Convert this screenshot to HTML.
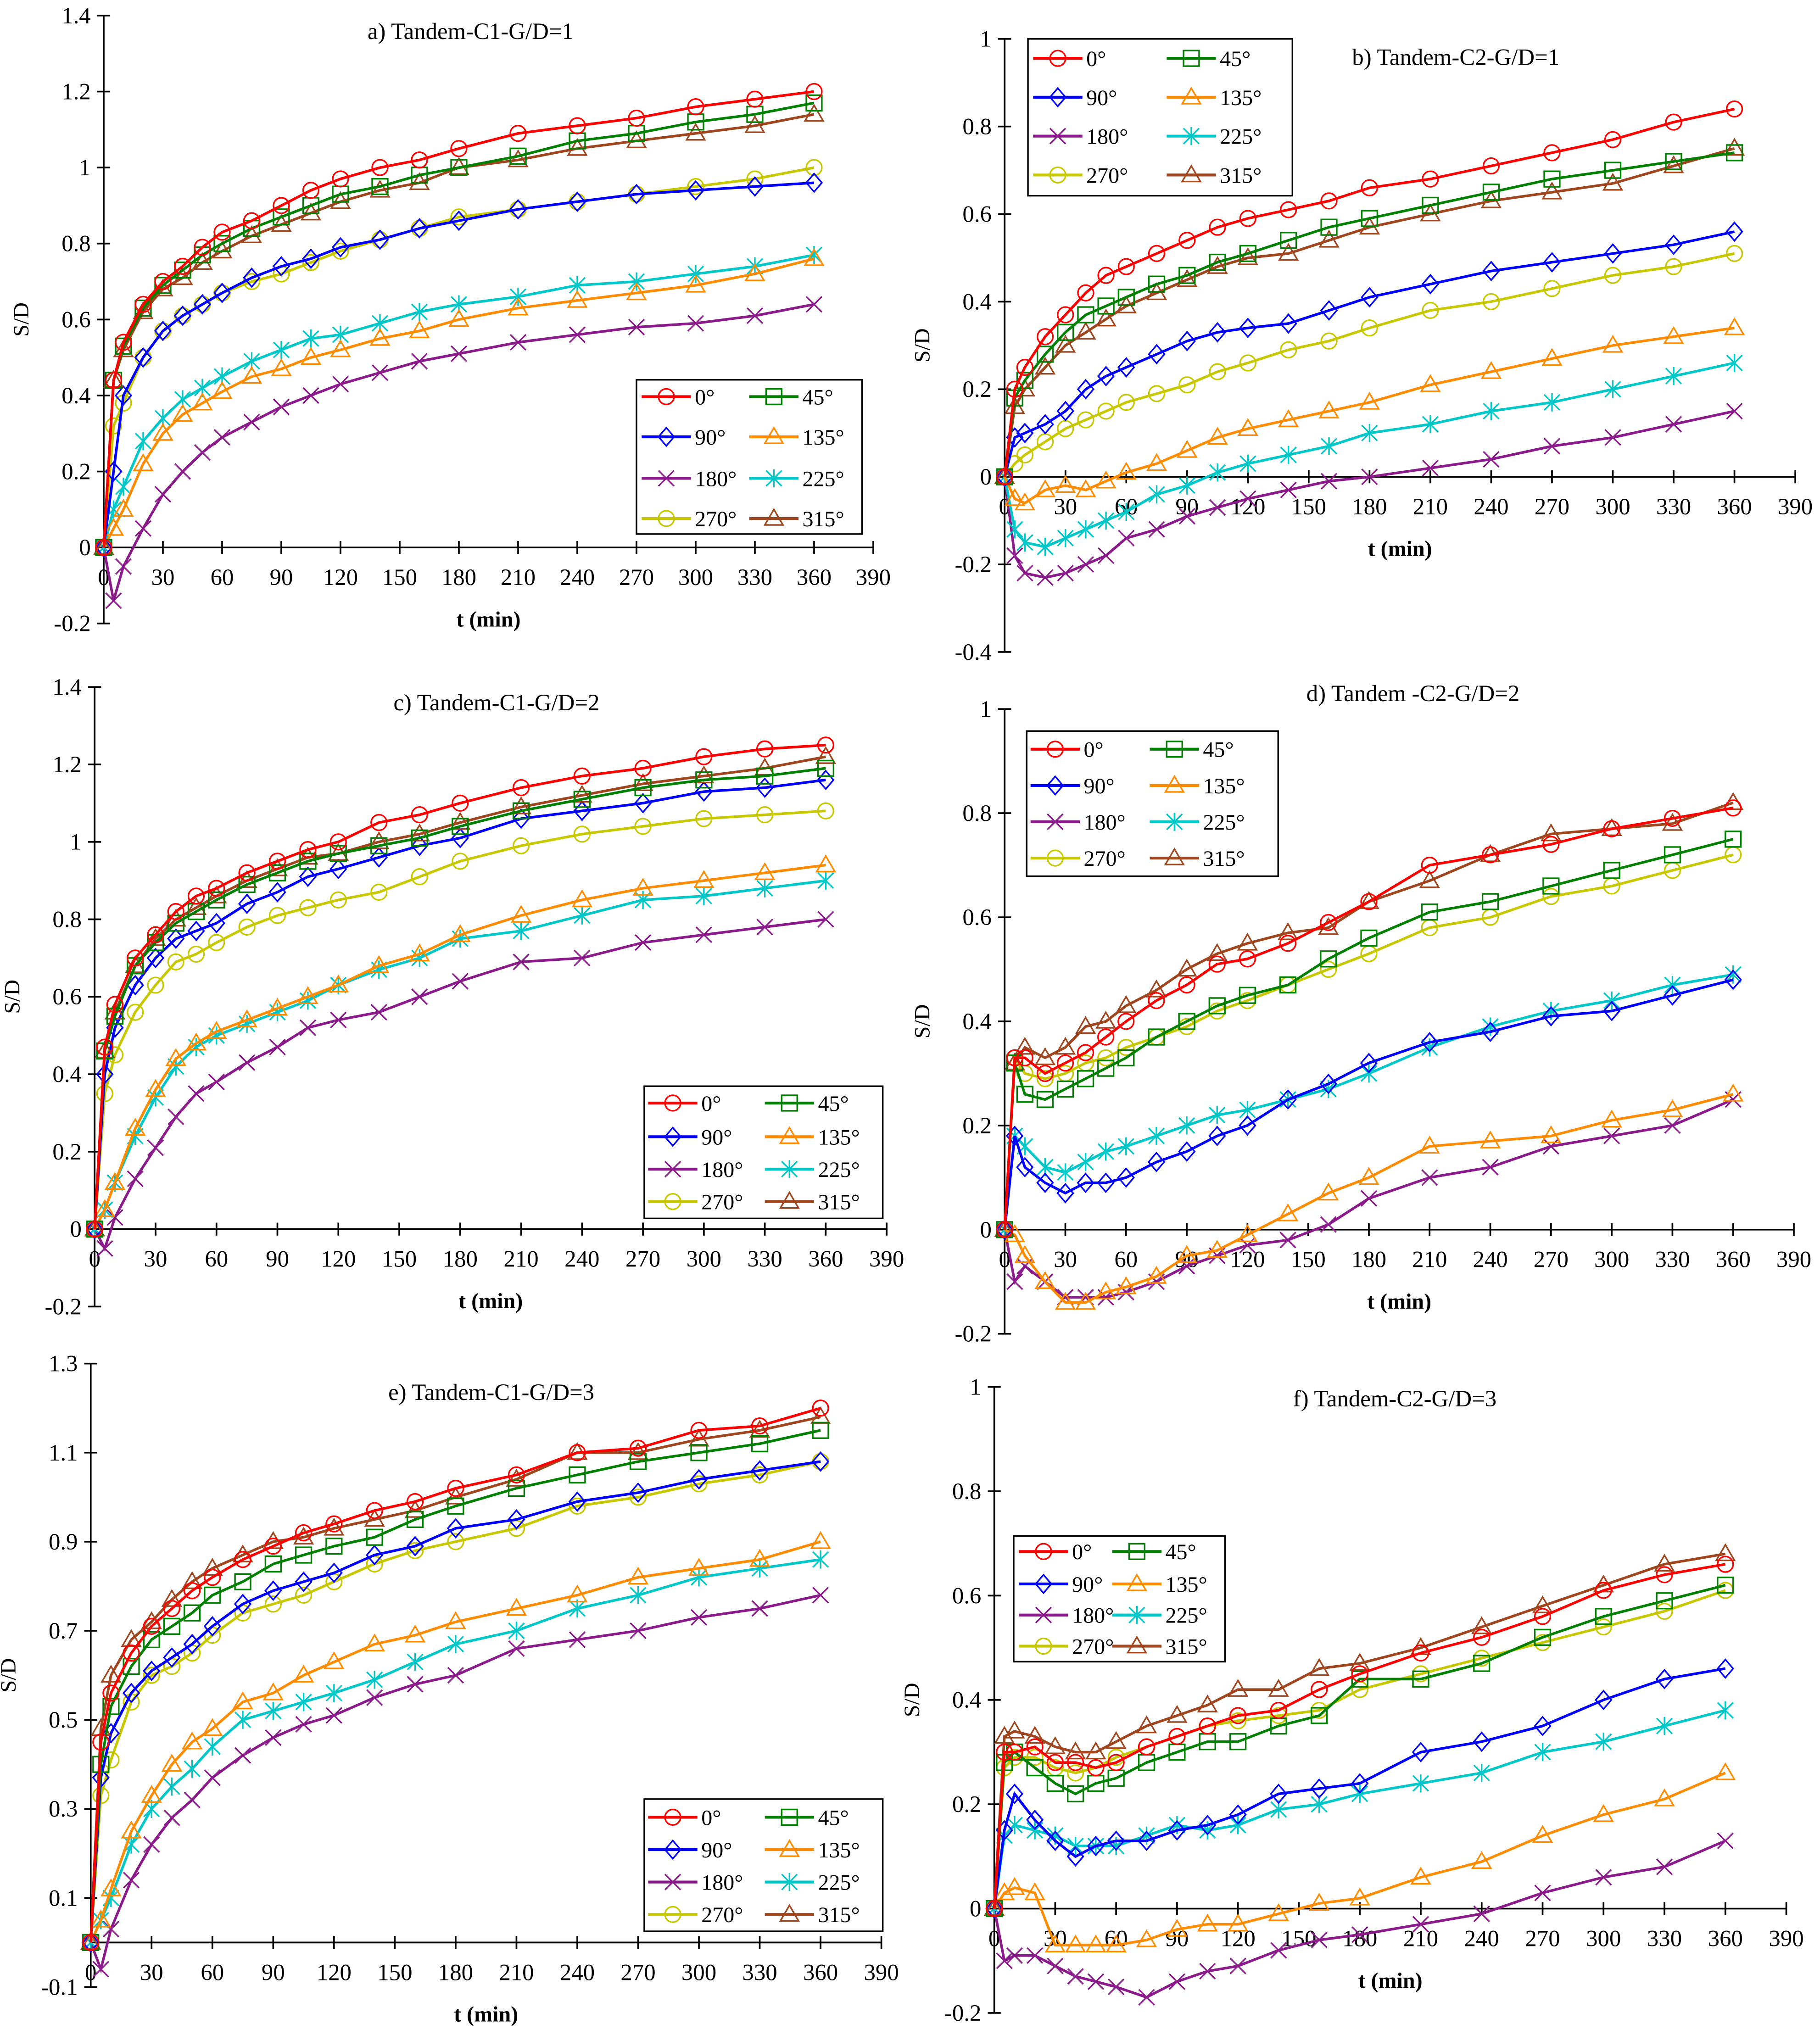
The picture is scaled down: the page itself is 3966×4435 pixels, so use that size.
<!DOCTYPE html>
<html><head><meta charset="utf-8"><style>
html,body{margin:0;padding:0;background:#fff}
svg{display:block}
text{font-family:"Liberation Serif",serif;fill:#000}
</style></head><body>
<svg id="chart" width="3966" height="4435" viewBox="0 0 1404 1570" xmlns="http://www.w3.org/2000/svg"></svg>
<script>
const times=[0,5,10,20,30,40,50,60,75,90,105,120,140,160,180,210,240,270,300,330,360];
const angles=["0°","45°","90°","135°","180°","225°","270°","315°"];
const xTicks=[0,30,60,90,120,150,180,210,240,270,300,330,360,390];
const aVals={
"0°":[0,.44,.54,.64,.70,.74,.79,.83,.86,.90,.94,.97,1.00,1.02,1.05,1.09,1.11,1.13,1.16,1.18,1.20],
"45°":[0,.44,.53,.63,.69,.73,.77,.80,.84,.87,.90,.93,.95,.98,1.00,1.03,1.07,1.09,1.12,1.14,1.17],
"90°":[0,.2,.4,.5,.57,.61,.64,.67,.71,.74,.76,.79,.81,.84,.86,.89,.91,.93,.94,.95,.96],
"135°":[0,.05,.1,.22,.3,.35,.38,.41,.45,.47,.50,.52,.55,.57,.60,.63,.65,.67,.69,.72,.76],
"180°":[0,-.14,-.05,.05,.14,.20,.25,.29,.33,.37,.40,.43,.46,.49,.51,.54,.56,.58,.59,.61,.64],
"225°":[0,.1,.16,.28,.34,.39,.42,.45,.49,.52,.55,.56,.59,.62,.64,.66,.69,.70,.72,.74,.77],
"270°":[0,.32,.38,.5,.57,.61,.64,.67,.70,.72,.75,.78,.81,.84,.87,.89,.91,.93,.95,.97,1.00],
"315°":[0,.44,.52,.62,.68,.71,.75,.78,.82,.85,.88,.91,.94,.96,1.00,1.02,1.05,1.07,1.09,1.11,1.14]};
const bVals={
"0°":[0,.2,.25,.32,.37,.42,.46,.48,.51,.54,.57,.59,.61,.63,.66,.68,.71,.74,.77,.81,.84],
"45°":[0,.18,.22,.28,.33,.37,.39,.41,.44,.46,.49,.51,.54,.57,.59,.62,.65,.68,.70,.72,.74],
"90°":[0,.09,.1,.12,.15,.2,.23,.25,.28,.31,.33,.34,.35,.38,.41,.44,.47,.49,.51,.53,.56],
"135°":[0,-.05,-.06,-.03,-.02,-.03,-.01,.01,.03,.06,.09,.11,.13,.15,.17,.21,.24,.27,.30,.32,.34],
"180°":[0,-.18,-.22,-.23,-.22,-.20,-.18,-.14,-.12,-.09,-.07,-.05,-.03,-.01,0,.02,.04,.07,.09,.12,.15],
"225°":[0,-.12,-.15,-.16,-.14,-.12,-.10,-.08,-.04,-.02,.01,.03,.05,.07,.10,.12,.15,.17,.20,.23,.26],
"270°":[0,.03,.05,.08,.11,.13,.15,.17,.19,.21,.24,.26,.29,.31,.34,.38,.40,.43,.46,.48,.51],
"315°":[0,.16,.2,.25,.3,.33,.36,.39,.42,.45,.48,.50,.51,.54,.57,.60,.63,.65,.67,.71,.75]};
const cVals={
"0°":[0,.47,.58,.7,.76,.82,.86,.88,.92,.95,.98,1.0,1.05,1.07,1.10,1.14,1.17,1.19,1.22,1.24,1.25],
"45°":[0,.46,.55,.68,.74,.79,.82,.85,.89,.92,.95,.97,.99,1.01,1.04,1.08,1.11,1.14,1.16,1.17,1.19],
"90°":[0,.4,.52,.63,.70,.75,.77,.79,.84,.87,.91,.93,.96,.99,1.01,1.06,1.08,1.10,1.13,1.14,1.16],
"135°":[0,.05,.12,.26,.36,.44,.48,.51,.54,.57,.60,.63,.68,.71,.76,.81,.85,.88,.90,.92,.94],
"180°":[0,-.05,.03,.13,.21,.29,.35,.38,.43,.47,.52,.54,.56,.60,.64,.69,.70,.74,.76,.78,.80],
"225°":[0,.05,.12,.24,.34,.42,.47,.50,.53,.56,.59,.63,.67,.70,.75,.77,.81,.85,.86,.88,.90],
"270°":[0,.35,.45,.56,.63,.69,.71,.74,.78,.81,.83,.85,.87,.91,.95,.99,1.02,1.04,1.06,1.07,1.08],
"315°":[0,.46,.56,.68,.75,.80,.83,.86,.90,.93,.96,.97,1.00,1.02,1.05,1.09,1.12,1.15,1.17,1.19,1.22]};
const dVals={
"0°":[0,.33,.33,.3,.32,.34,.37,.40,.44,.47,.51,.52,.55,.59,.63,.70,.72,.74,.77,.79,.81],
"45°":[0,.32,.26,.25,.27,.29,.31,.33,.37,.40,.43,.45,.47,.52,.56,.61,.63,.66,.69,.72,.75],
"90°":[0,.18,.12,.09,.07,.09,.09,.10,.13,.15,.18,.20,.25,.28,.32,.36,.38,.41,.42,.45,.48],
"135°":[0,-.01,-.05,-.1,-.14,-.14,-.12,-.11,-.09,-.05,-.04,-.01,.03,.07,.10,.16,.17,.18,.21,.23,.26],
"180°":[0,-.1,-.07,-.1,-.13,-.13,-.13,-.12,-.10,-.07,-.05,-.03,-.02,.01,.06,.10,.12,.16,.18,.20,.25],
"225°":[0,.18,.16,.12,.11,.13,.15,.16,.18,.20,.22,.23,.25,.27,.30,.35,.39,.42,.44,.47,.49],
"270°":[0,.33,.30,.29,.30,.32,.33,.35,.37,.39,.42,.44,.47,.50,.53,.58,.60,.64,.66,.69,.72],
"315°":[0,.32,.35,.33,.35,.39,.40,.43,.46,.50,.53,.55,.57,.58,.63,.67,.72,.76,.77,.78,.82]};
const eVals={
"0°":[0,.45,.56,.65,.71,.75,.79,.82,.86,.89,.92,.94,.97,.99,1.02,1.05,1.10,1.11,1.15,1.16,1.20],
"45°":[0,.40,.53,.62,.68,.71,.74,.78,.81,.85,.87,.89,.91,.95,.98,1.02,1.05,1.08,1.10,1.12,1.15],
"90°":[0,.37,.47,.56,.61,.64,.67,.71,.76,.79,.81,.83,.87,.89,.93,.95,.99,1.01,1.04,1.06,1.08],
"135°":[0,.05,.12,.25,.33,.40,.45,.48,.54,.56,.60,.63,.67,.69,.72,.75,.78,.82,.84,.86,.90],
"180°":[0,-.06,.03,.14,.22,.28,.32,.37,.42,.46,.49,.51,.55,.58,.60,.66,.68,.70,.73,.75,.78],
"225°":[0,.05,.10,.22,.30,.35,.39,.44,.50,.52,.54,.56,.59,.63,.67,.70,.75,.78,.82,.84,.86],
"270°":[0,.33,.41,.54,.60,.62,.65,.69,.74,.76,.78,.81,.85,.88,.90,.93,.98,1.00,1.03,1.05,1.08],
"315°":[0,.48,.6,.68,.72,.77,.81,.84,.87,.90,.91,.93,.95,.97,1.00,1.04,1.10,1.10,1.13,1.15,1.18]};
const fVals={
"0°":[0,.3,.3,.31,.28,.28,.27,.28,.31,.33,.35,.37,.38,.42,.45,.49,.52,.56,.61,.64,.66],
"45°":[0,.28,.30,.27,.24,.22,.24,.25,.28,.30,.32,.32,.35,.37,.44,.44,.47,.52,.56,.59,.62],
"90°":[0,.15,.22,.17,.13,.10,.12,.13,.13,.15,.16,.18,.22,.23,.24,.30,.32,.35,.40,.44,.46],
"135°":[0,.03,.04,.03,-.07,-.07,-.07,-.07,-.06,-.04,-.03,-.03,-.01,.01,.02,.06,.09,.14,.18,.21,.26],
"180°":[0,-.1,-.09,-.09,-.11,-.13,-.14,-.15,-.17,-.14,-.12,-.11,-.08,-.06,-.05,-.03,-.01,.03,.06,.08,.13],
"225°":[0,.14,.16,.15,.14,.12,.12,.12,.14,.16,.15,.16,.19,.20,.22,.24,.26,.30,.32,.35,.38],
"270°":[0,.27,.29,.29,.27,.26,.27,.29,.31,.33,.35,.36,.37,.38,.42,.45,.48,.51,.54,.57,.61],
"315°":[0,.33,.34,.33,.31,.30,.30,.32,.35,.37,.39,.42,.42,.46,.47,.50,.54,.58,.62,.66,.68]};
const aTicks=[1.4,1.2,1,0.8,0.6,0.4,0.2,0,-0.2];
const bTicks=[1,0.8,0.6,0.4,0.2,0,-0.2,-0.4];
const cTicks=[1.4,1.2,1,0.8,0.6,0.4,0.2,0,-0.2];
const dTicks=[1,0.8,0.6,0.4,0.2,0,-0.2];
const eTicks=[1.3,1.1,0.9,0.7,0.5,0.3,0.1,-0.1];
const fTicks=[1,0.8,0.6,0.4,0.2,0,-0.2];

const colors={"0°":"#ff0000","45°":"#008000","90°":"#0000ff","135°":"#ff8c00","180°":"#8b1a8b","225°":"#00c8c8","270°":"#c8c800","315°":"#a0461e"};
const markers={"0°":"circle","45°":"square","90°":"diamond","135°":"tri","180°":"x","225°":"star","270°":"circle","315°":"tri"};
const NS="http://www.w3.org/2000/svg";
const svg=document.getElementById('chart');
function el(tag,attrs,parent){const e=document.createElementNS(NS,tag);for(const k in attrs)e.setAttribute(k,attrs[k]);(parent||svg).appendChild(e);return e;}
function marker(g,type,x,y,c){
  const r=6;let m;
  if(type==="circle")m=el('circle',{cx:x,cy:y,r:r,fill:'none',stroke:c,'stroke-width':1.2},g);
  else if(type==="square")m=el('rect',{x:x-r,y:y-r,width:2*r,height:2*r,fill:'none',stroke:c,'stroke-width':1.2},g);
  else if(type==="diamond")m=el('path',{d:`M${x} ${y-r-1}L${x+r} ${y}L${x} ${y+r+1}L${x-r} ${y}Z`,fill:'none',stroke:c,'stroke-width':1.2},g);
  else if(type==="tri")m=el('path',{d:`M${x} ${y-r-1}L${x+r+1} ${y+r-1}L${x-r-1} ${y+r-1}Z`,fill:'none',stroke:c,'stroke-width':1.2},g);
  else if(type==="x")m=el('path',{d:`M${x-r} ${y-r}L${x+r} ${y+r}M${x-r} ${y+r}L${x+r} ${y-r}`,stroke:c,'stroke-width':1.2},g);
  else m=el('path',{d:`M${x-r} ${y-r}L${x+r} ${y+r}M${x-r} ${y+r}L${x+r} ${y-r}M${x} ${y-r-1}L${x} ${y+r+1}`,stroke:c,'stroke-width':1.2},g);
  
  
}
const panels=[
 {id:'a',vals:aVals,ticks:aTicks,x0:80,x360:628,yTop:12,vTop:1.4,yBot:481,vBot:-0.2,title:"a) Tandem-C1-G/D=1",tx:363,ty:30,leg:{x:491,y:293,w:174,h:119,c1:495,c2:578,rows:[306,337,369,400]}},
 {id:'b',vals:bVals,ticks:bTicks,x0:775,x360:1338,yTop:30,vTop:1,yBot:503,vBot:-0.4,title:"b) Tandem-C2-G/D=1",tx:1123,ty:50,leg:{x:793,y:30,w:204,h:121,c1:797,c2:900,rows:[45,75,105,135]}},
 {id:'c',vals:cVals,ticks:cTicks,x0:73,x360:637,yTop:530,vTop:1.4,yBot:1008,vBot:-0.2,title:"c) Tandem-C1-G/D=2",tx:383,ty:548,leg:{x:497,y:838,w:184,h:102,c1:500,c2:590,rows:[851,877,902,927]}},
 {id:'d',vals:dVals,ticks:dTicks,x0:775,x360:1337,yTop:547,vTop:1,yBot:1029,vBot:-0.2,title:"d) Tandem -C2-G/D=2",tx:1090,ty:541,leg:{x:792,y:564,w:194,h:112,c1:795,c2:887,rows:[578,606,634,662]}},
 {id:'e',vals:eVals,ticks:eTicks,x0:70,x360:633,yTop:1052,vTop:1.3,yBot:1533,vBot:-0.1,title:"e) Tandem-C1-G/D=3",tx:379,ty:1080,leg:{x:497,y:1388,w:184,h:102,c1:500,c2:590,rows:[1402,1427,1452,1477]}},
 {id:'f',vals:fVals,ticks:fTicks,x0:767,x360:1331,yTop:1070,vTop:1,yBot:1553,vBot:-0.2,title:"f) Tandem-C2-G/D=3",tx:1076,ty:1085,leg:{x:782,y:1185,w:163,h:97,c1:786,c2:858,rows:[1197,1222,1246,1270]}}
];
panels.forEach(p=>{
  const g=el('g',{});
  
  
  const xs=t=>p.x0+(p.x360-p.x0)*t/360;
  const ys=v=>p.yTop+(p.yBot-p.yTop)*(p.vTop-v)/(p.vTop-p.vBot);
  const y0=ys(0);
  const ya=el('line',{x1:p.x0,y1:p.yTop,x2:p.x0,y2:p.yBot,stroke:'#000','stroke-width':1.3},g);
  
  p.ticks.forEach(v=>{
    el('line',{x1:p.x0-5,y1:ys(v),x2:p.x0+5,y2:ys(v),stroke:'#000','stroke-width':1.3},g);
    const t=el('text',{x:p.x0-10,y:ys(v)+6,'text-anchor':'end','font-size':18},g);t.textContent=String(v);
    
  });
  const xa=el('line',{x1:p.x0,y1:y0,x2:xs(390),y2:y0,stroke:'#000','stroke-width':1.3},g);
  
  xTicks.forEach(v=>{
    el('line',{x1:xs(v),y1:y0-5,x2:xs(v),y2:y0+5,stroke:'#000','stroke-width':1.3},g);
    const t=el('text',{x:xs(v),y:y0+29,'text-anchor':'middle','font-size':18},g);t.textContent=String(v);
    
  });
  const xl=el('text',{x:xs(195),y:y0+61,'text-anchor':'middle','font-size':17,'font-weight':'bold'},g);xl.textContent='t (min)';
  
  const ymid=(p.yTop+p.yBot)/2;const yx=p.x0-58;
  const yl=el('text',{x:yx,y:ymid,'text-anchor':'middle','font-size':17,transform:`rotate(-90 ${yx} ${ymid})`},g);yl.textContent='S/D';
  
  const ti=el('text',{x:p.tx,y:p.ty,'text-anchor':'middle','font-size':18},g);ti.textContent=p.title;
  
  const order=["270°","180°","225°","135°","90°","315°","45°","0°"];
  order.forEach(a=>{
    const vals=p.vals[a];const c=colors[a];
    const sg=el('g',{},g);
    
    
    const d=vals.map((v,i)=>(i?'L':'M')+xs(times[i]).toFixed(1)+' '+ys(v).toFixed(1)).join('');
    el('path',{d:d,fill:'none',stroke:c,'stroke-width':2},sg);
    vals.forEach((v,i)=>marker(sg,markers[a],xs(times[i]),ys(v),c));
  });
  const L=p.leg;
  const lg=el('g',{},g);
  
  
  el('rect',{x:L.x,y:L.y,width:L.w,height:L.h,fill:'#fff',stroke:'#000','stroke-width':1.2},lg);
  angles.forEach((a,i)=>{
    const col=i%2,row=Math.floor(i/2);
    const lx=col?L.c2:L.c1,ly=L.rows[row];
    const eg=el('g',{},lg);
    
    
    el('line',{x1:lx,y1:ly,x2:lx+38,y2:ly,stroke:colors[a],'stroke-width':2.2},eg);
    marker(eg,markers[a],lx+19,ly,colors[a]);
    const t=el('text',{x:lx+41,y:ly+6,'font-size':17},eg);t.textContent=a;
  });
});
</script>
</body></html>
